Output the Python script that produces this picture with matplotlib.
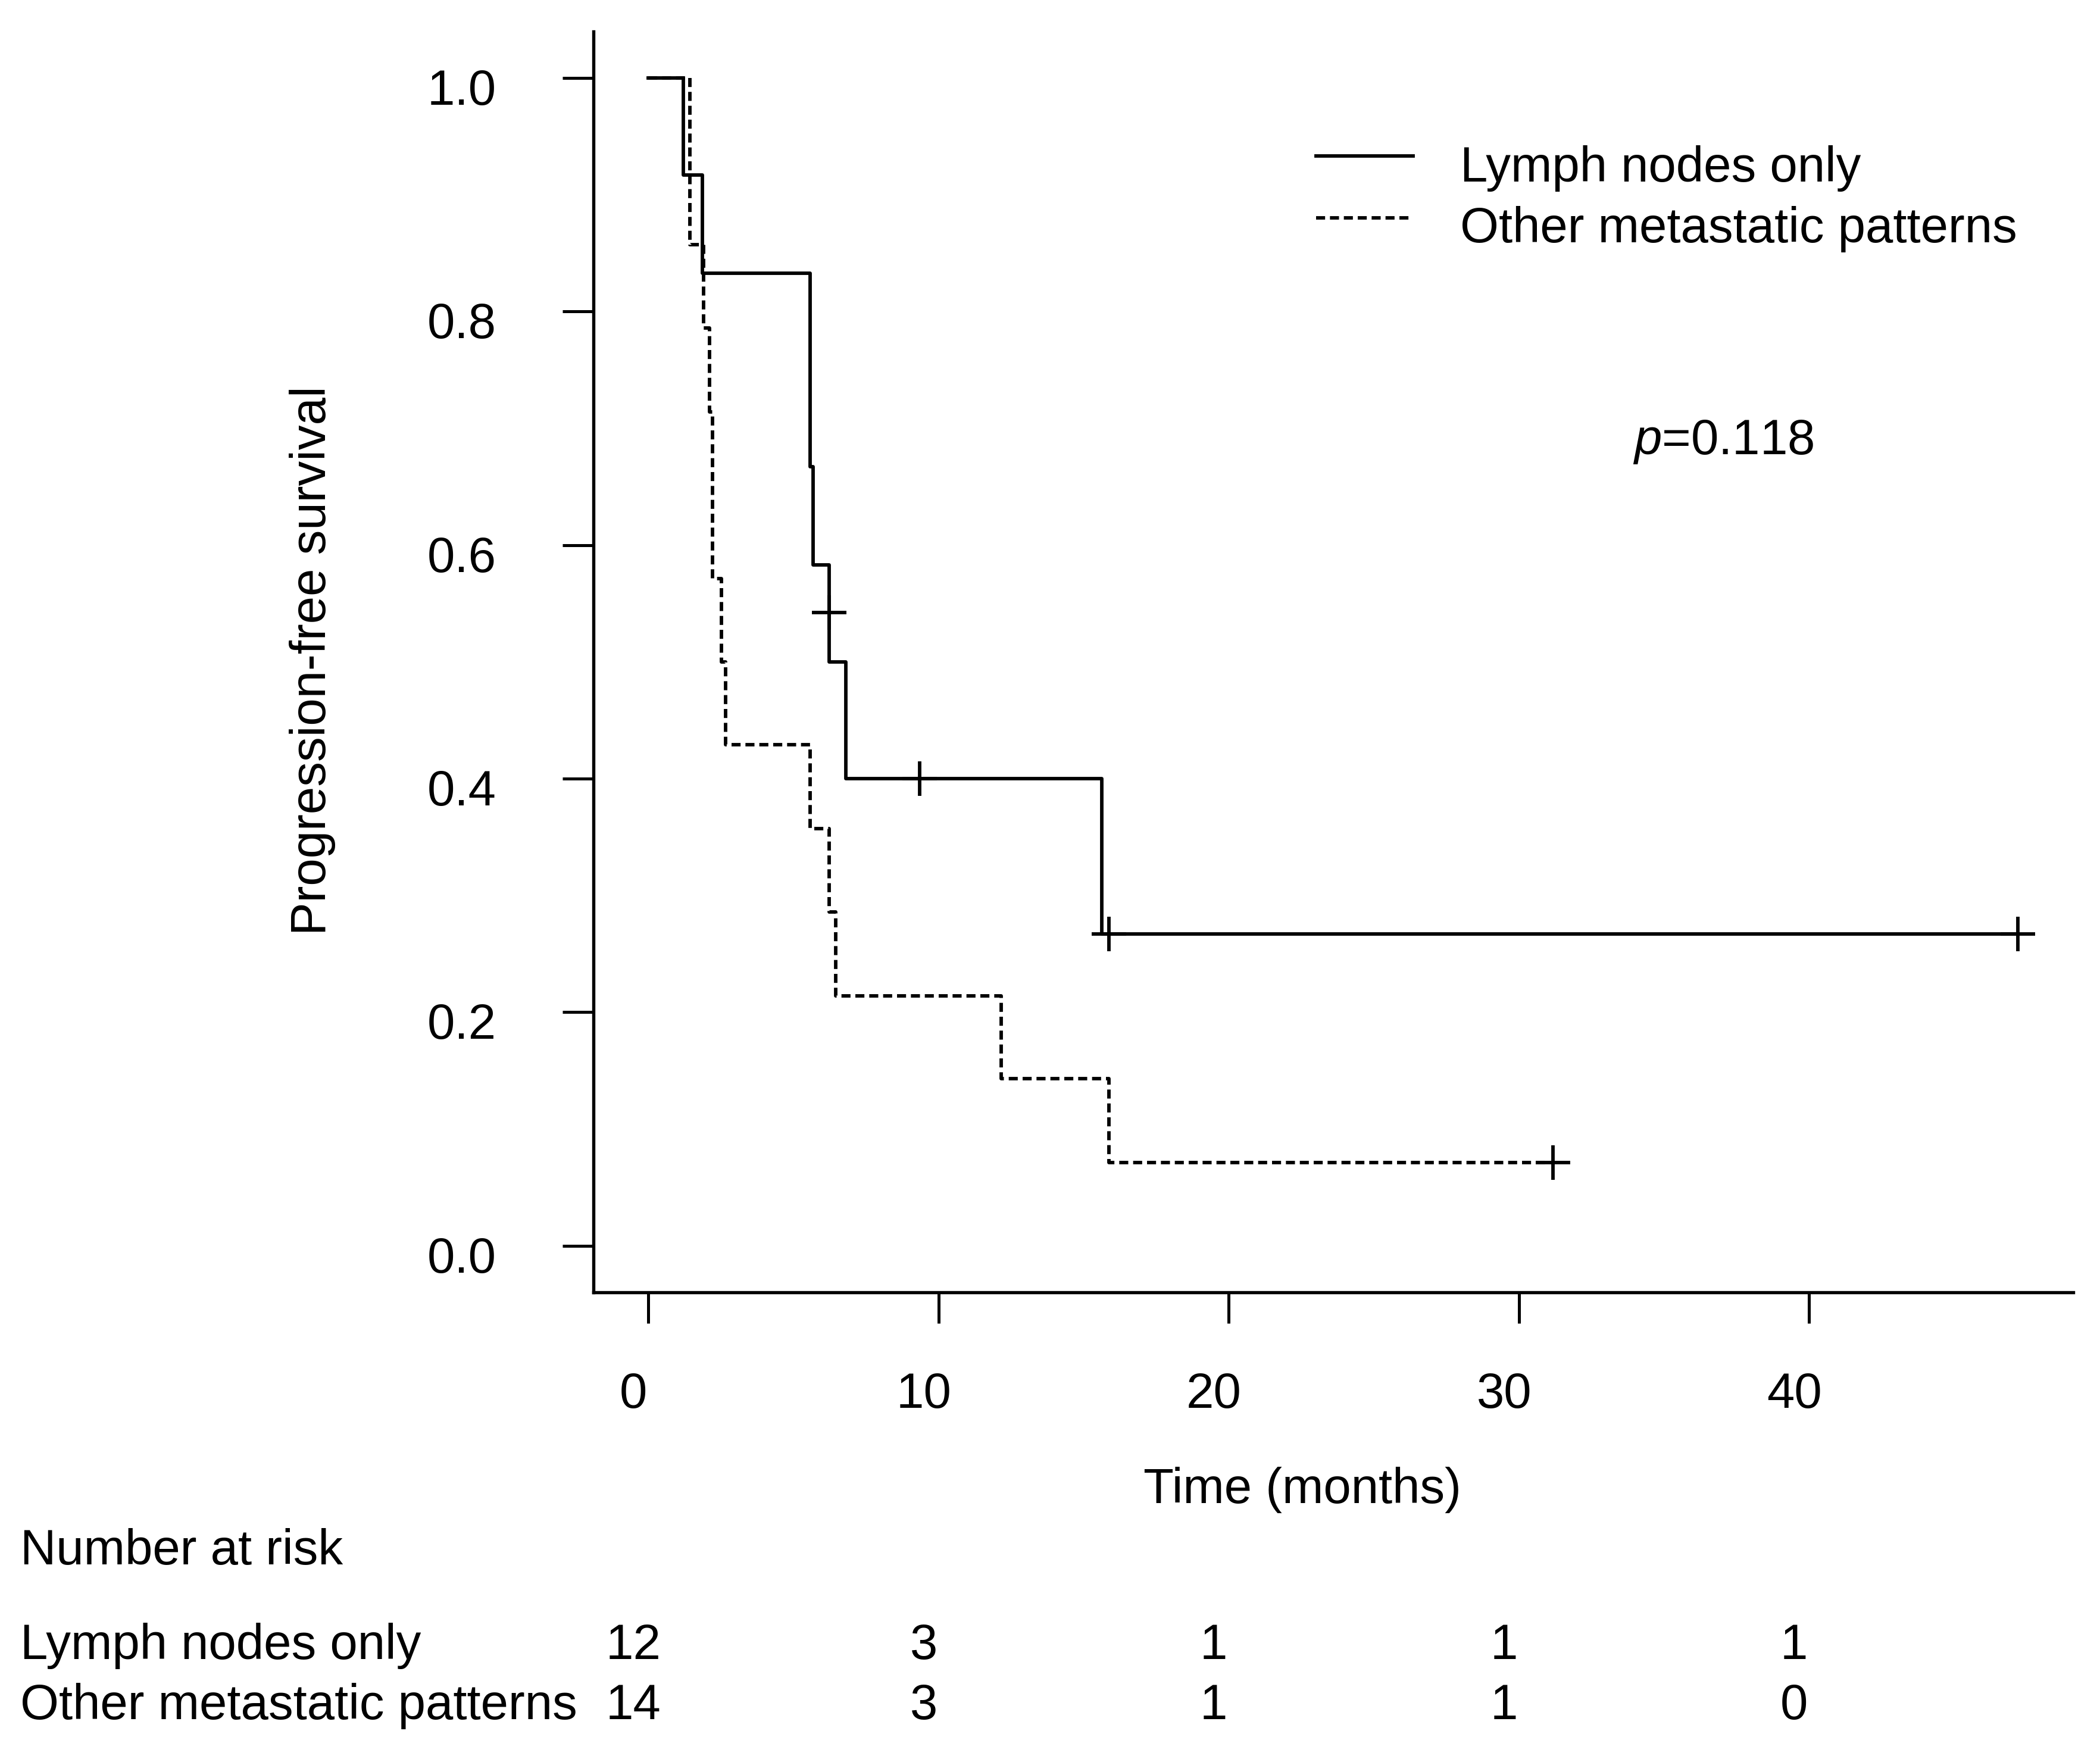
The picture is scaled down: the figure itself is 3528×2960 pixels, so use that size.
import numpy as np
import matplotlib.pyplot as plt
from matplotlib.lines import Line2D
from matplotlib.transforms import ScaledTranslation, blended_transform_factory

plt.rcParams['font.family'] = ['Liberation Sans', 'DejaVu Sans']
plt.rcParams['mathtext.fontset'] = 'custom'
plt.rcParams['mathtext.rm'] = 'Liberation Sans'
plt.rcParams['mathtext.it'] = 'Liberation Sans:italic'

group_names = ['Lymph nodes only', 'Other metastatic patterns']

# step curves (time in months, survival after each step)
lymph_times = [0, 1.2, 1.87, 5.58, 5.68, 6.24, 6.81, 15.62, 47.2]
lymph_surv = [1.0, 0.917, 0.833, 0.667, 0.583, 0.5, 0.4, 0.267, 0.267]
lymph_cens_t = [6.24, 9.35, 15.87, 47.2]
lymph_cens_s = [0.542, 0.4, 0.267, 0.267]

other_times = [0, 1.43, 1.9, 2.11, 2.21, 2.52, 2.66, 5.58, 6.24, 6.45,
               12.15, 15.87, 31.17]
other_surv = [1.0, 0.857, 0.786, 0.714, 0.571, 0.5, 0.429, 0.357, 0.286,
              0.214, 0.143, 0.071, 0.071]
other_cens_t = [31.17]
other_cens_s = [0.071]

y_ticks = [0.0, 0.2, 0.4, 0.6, 0.8, 1.0]
risk_times = [0, 10, 20, 30, 40]
risk_lymph = [12, 3, 1, 1, 1]
risk_other = [14, 3, 1, 1, 0]
p_value = '0.118'

W, H = 3528, 2960
DPI = 300
FS = 20


def fx(px):
    return px / W


def fy(py):
    return 1 - py / H


fig = plt.figure(figsize=(W / DPI, H / DPI), dpi=DPI)
ax = fig.add_axes([fx(997), fy(2171), (3483 - 997) / W, (2171 - 52.5) / H])

lw = 1.4
dashed = (0, (2.6, 1.4))
ax.step(other_times, other_surv, where='post', color='black', lw=lw,
        linestyle=dashed, dash_capstyle='butt')
ax.step(lymph_times, lymph_surv, where='post', color='black', lw=lw)
ax.plot(lymph_cens_t, lymph_cens_s, ls='none', marker='+', ms=14, mew=1.4,
        color='black')
ax.plot(other_cens_t, other_cens_s, ls='none', marker='+', ms=14, mew=1.4,
        color='black')

ax.set_xlim(-1.89, 49.1)
ax.set_ylim(-0.04, 1.04)
ax.spines[['top', 'right']].set_visible(False)
for s in ['left', 'bottom']:
    ax.spines[s].set_linewidth(1.3)
ax.set_xticks(risk_times)
ax.set_yticks(y_ticks)
ax.tick_params(direction='out', length=12.5, width=1.2,
               labelbottom=False, labelleft=False)

# tick labels (slightly offset, as in the original)
xoff = ScaledTranslation(-25 / DPI, 0, fig.dpi_scale_trans)
xtr = blended_transform_factory(ax.transData, fig.transFigure) + xoff
for t in risk_times:
    ax.text(t, fy(2365), str(t), transform=xtr, ha='center', va='baseline',
            fontsize=FS)
ytr = blended_transform_factory(fig.transFigure, ax.transData) + \
    ScaledTranslation(0, -45 / DPI, fig.dpi_scale_trans)
for v in y_ticks:
    ax.text(fx(834), v, '%.1f' % v, transform=ytr, ha='right',
            va='baseline', fontsize=FS)

fig.text(fx(2188), fy(2525), 'Time (months)', ha='center', va='baseline',
         fontsize=FS)
fig.text(fx(547), fy(1110), 'Progression-free survival', rotation=90,
         rotation_mode='anchor', ha='center', va='baseline', fontsize=FS)

# legend
fig.add_artist(Line2D([fx(2211), fx(2374)], [fy(262), fy(262)],
                      color='black', lw=lw))
fig.add_artist(Line2D([fx(2211), fx(2374)], [fy(366), fy(366)],
                      color='black', lw=lw, linestyle=dashed,
                      dash_capstyle='butt'))
fig.text(fx(2453), fy(305), group_names[0], ha='left', va='baseline',
         fontsize=FS)
fig.text(fx(2453), fy(407), group_names[1], ha='left', va='baseline',
         fontsize=FS)

fig.text(fx(2743), fy(763), '$p$=' + p_value, ha='left', va='baseline',
         fontsize=FS)

# number at risk table
fig.text(fx(34), fy(2628), 'Number at risk', ha='left', va='baseline',
         fontsize=FS)
for name, counts, row_y in [(group_names[0], risk_lymph, 2787),
                            (group_names[1], risk_other, 2888)]:
    fig.text(fx(34), fy(row_y), name, ha='left', va='baseline', fontsize=FS)
    for t, n in zip(risk_times, counts):
        ax.text(t, fy(row_y), str(n), transform=xtr, ha='center',
                va='baseline', fontsize=FS)

fig.savefig('out.png', dpi=DPI)
